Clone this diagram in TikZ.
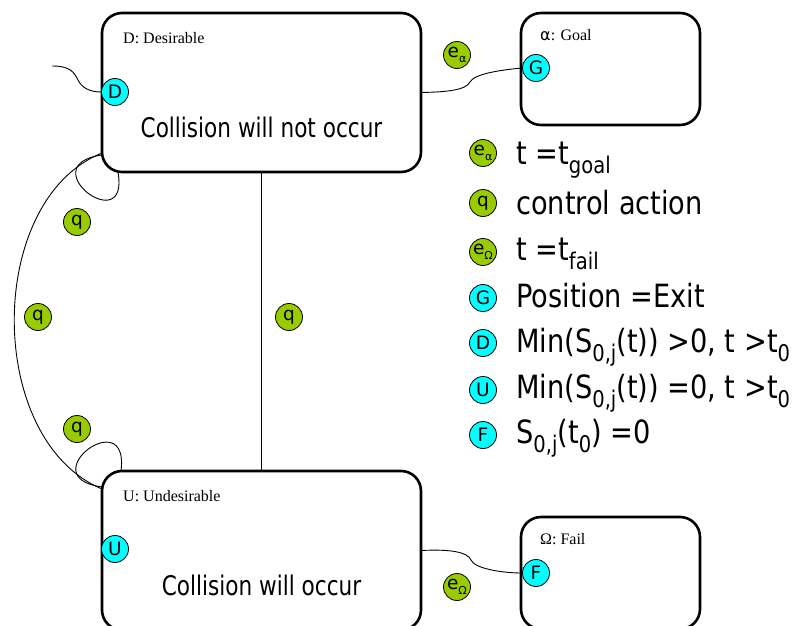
\documentclass[tikz,border=0pt]{standalone}
\usepackage{fontspec}
\usepackage{xcolor}
\usepackage{tikz}
\setmainfont{Liberation Serif}
\newfontfamily\dvsans{DejaVu Sans}
\newfontfamily\dvbox[FakeStretch=0.8]{DejaVu Sans}
\newfontfamily\dvleg[FakeStretch=0.85]{DejaVu Sans}
\definecolor{portcyan}{RGB}{0,255,255}
\definecolor{evgreen}{RGB}{153,204,0}
% lowered subscripts for legend and dots
\newcommand{\lowsub}[1]{\raisebox{-0.3em}{\fontsize{23}{23}\selectfont #1}}
\newcommand{\dotsub}[1]{\raisebox{-0.3em}{\fontsize{11}{11}\selectfont #1}}

\begin{document}
\begin{tikzpicture}[x=1pt, y=-1pt,
    statebox/.style={draw, line width=2.6pt, rounded corners=20pt, outer sep=0pt,
        minimum width=319pt, minimum height=159pt, anchor=north west},
    smallbox/.style={statebox, minimum width=179pt, minimum height=112pt},
    titletext/.style={anchor=base west, inner sep=0pt, font=\fontsize{16}{16}\selectfont},
    bigtext/.style={anchor=base, inner sep=0pt, font=\dvbox\fontsize{27}{27}\selectfont},
    legtext/.style={anchor=base west, inner sep=0pt, font=\dvleg\fontsize{32}{32}\selectfont},
    portdot/.style={circle, draw, line width=0.8pt, fill=portcyan, minimum size=27pt,
        inner sep=0pt, font=\dvsans\fontsize{18.5}{18.5}\selectfont},
    evdot/.style={portdot, fill=evgreen},
    wire/.style={line width=0.9pt}]
    \useasboundingbox (0,0) rectangle (793,626);
    \clip (0,0) rectangle (793,626);

    % state boxes
    \node[statebox] (des) at (102,13) {};
    \node[statebox] (und) at (102,471) {};
    \node[smallbox] (goal) at (521,13) {};
    \node[smallbox] (fail) at (521,517) {};

    \node[titletext] (desT) at (123,44) {D: Desirable};
    \node[titletext] (undT) at (123,501) {U: Undesirable};
    \node[titletext] (goalT) at (540,41) {{\dvsans α}: Goal};
    \node[titletext] (failT) at (540,544) {Ω: Fail};

    \node[bigtext] (desTxt) at (261.5,137) {Collision will not occur};
    \node[bigtext] (undTxt) at (261.5,595) {Collision will occur};

    % ports
    \node[portdot] (pD) at (115,92) {D};
    \node[portdot] (pG) at (536,68) {G};
    \node[portdot] (pU) at (115,549) {U};
    \node[portdot] (pF) at (536,573) {F};

    % events and control actions
    \node[evdot] (eGoal) at (457,55) {e\dotsub{α}};
    \node[evdot] (eFail) at (457,587) {e\dotsub{Ω}};
    \node[evdot] (qTop) at (77,222) {q};
    \node[evdot] (qSide) at (38,317) {q};
    \node[evdot] (qBot) at (77,429) {q};
    \node[evdot] (qMid) at (289,317) {q};

    % transitions
    \coordinate (inD) at (52,66);
    \draw[wire] (inD) .. controls (70,66) and (74,72) .. (78,80)
        .. controls (82,88) and (90,92) .. (pD.west);
    \draw[wire] (des.east) .. controls (448,92) and (466,90) .. (470,82)
        .. controls (474,74) and (500,70) .. (pG.west);
    \draw[wire] (und.east) .. controls (450,549) and (468,552) .. (471,560)
        .. controls (474,568) and (500,573) .. (pF.west);
    \draw[wire] (des.south) -- (und.north);
    \draw[wire] ([yshift=19pt]des.south west) .. controls (-15,200) and (-15,440)
        .. ([yshift=-18pt]und.north west);
    % self loops
    \draw[wire] ([yshift=17pt]des.south west) .. controls (30,165) and (130,240)
        .. ([xshift=16pt]des.south west);
    \draw[wire] ([yshift=-16pt]und.north west) .. controls (30,477) and (130,402)
        .. ([xshift=19pt]und.north west);

    % legend
    \node[evdot] (kGoal) at (483,153) {e\dotsub{α}};
    \node[legtext] (lGoal) at (516,164) {t =t\lowsub{goal}};
    \node[evdot] (kCtrl) at (483,203) {q};
    \node[legtext] (lCtrl) at (516,214) {control action};
    \node[evdot] (kFail) at (483,252) {e\dotsub{Ω}};
    \node[legtext] (lFail) at (516,260) {t =t\lowsub{fail}};
    \node[portdot] (kG) at (483,298) {G};
    \node[legtext] (lG) at (516,307) {Position =Exit};
    \node[portdot] (kD) at (483,343) {D};
    \node[legtext] (lD) at (516,352) {Min(S\lowsub{0,j}(t)) >0, t >t\lowsub{0}};
    \node[portdot] (kU) at (483,390) {U};
    \node[legtext] (lU) at (516,398) {Min(S\lowsub{0,j}(t)) =0, t >t\lowsub{0}};
    \node[portdot] (kF) at (483,435) {F};
    \node[legtext] (lF) at (516,443) {S\lowsub{0,j}(t\lowsub{0}) =0};
\end{tikzpicture}
\end{document}
